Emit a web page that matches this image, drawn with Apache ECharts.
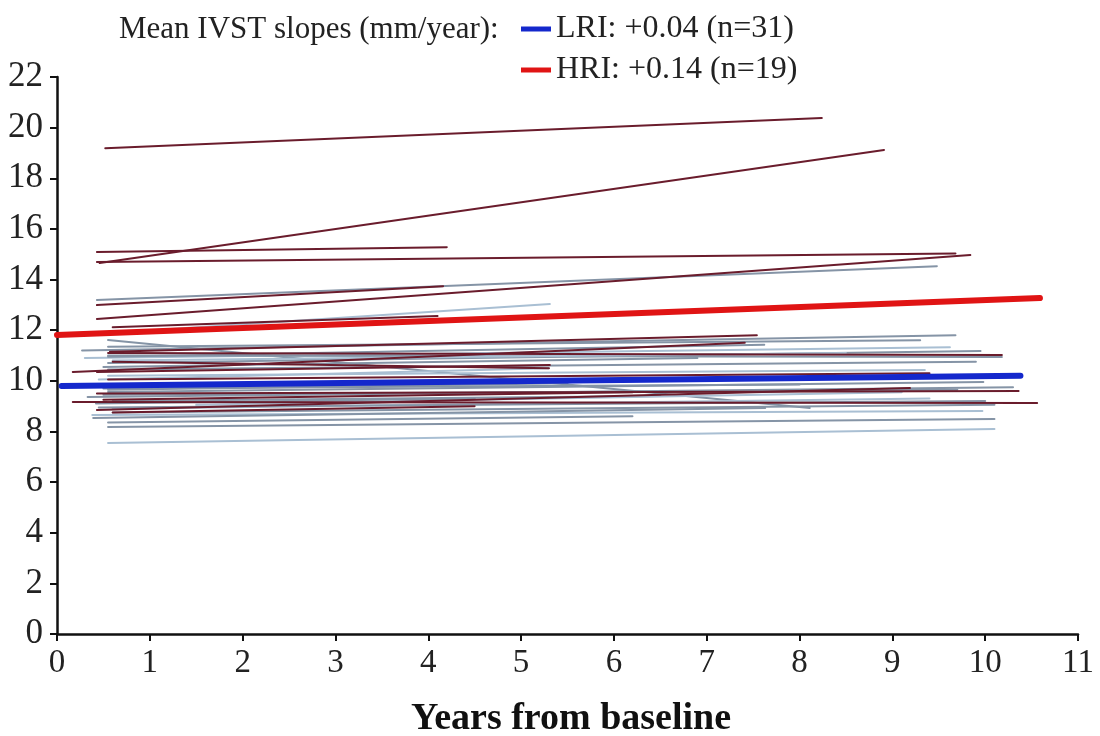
<!DOCTYPE html>
<html>
<head>
<meta charset="utf-8">
<title>IVST slopes</title>
<script src="https://cdn.jsdelivr.net/npm/echarts@6.0.0/dist/echarts.min.js"></script>
<style>
    html, body { margin: 0; padding: 0; background: #fff; }
    #ivstChart { width: 1100px; height: 736px; }
</style>
</head>
<body>
<div id="ivstChart"></div>
<script>
// x axis ticks (years) and y axis ticks (mm)
var xTicks = [0, 1, 2, 3, 4, 5, 6, 7, 8, 9, 10, 11];
var yTicks = [0, 2, 4, 6, 8, 10, 12, 14, 16, 18, 20, 22];

// legend labels
var slopeTitle = 'Mean IVST slopes (mm/year):';
var meanNames = ['LRI: +0.04 (n=31)', 'HRI: +0.14 (n=19)'];

// mean slope lines: [x0, y0, x1, y1]
var lriMean = [0.05, 9.80, 10.38, 10.20];
var hriMean = [0.00, 11.81, 10.59, 13.27];

// individual patients, LRI group: [x0, y0, x1, y1]
var lriLines = [
    [0.43, 13.19, 9.48, 14.53],
    [0.57, 11.89, 5.31, 13.03],
    [0.55, 11.61, 8.11, 8.93],
    [0.27, 11.20, 9.68, 11.80],
    [0.30, 10.90, 9.62, 11.33],
    [0.55, 10.70, 9.95, 11.18],
    [0.55, 11.00, 10.18, 10.94],
    [0.55, 10.20, 9.35, 10.43],
    [0.55, 9.56, 9.98, 9.95],
    [0.33, 9.36, 10.30, 9.75],
    [0.38, 8.65, 9.97, 8.81],
    [0.39, 8.53, 7.63, 8.93],
    [0.55, 8.18, 10.10, 8.49],
    [0.55, 7.54, 10.10, 8.10],
    [0.60, 8.75, 10.10, 9.05],
    [0.55, 10.95, 7.62, 11.42],
    [0.45, 10.05, 5.30, 10.50],
    [0.60, 9.20, 6.50, 9.40],
    [0.50, 9.70, 8.00, 9.85],
    [1.50, 9.05, 9.10, 9.55],
    [0.55, 10.45, 9.90, 10.75],
    [0.42, 9.10, 4.50, 9.30],
    [0.60, 8.90, 9.40, 9.30],
    [0.50, 10.55, 6.90, 10.90],
    [0.55, 11.35, 9.30, 11.60],
    [0.40, 9.85, 10.20, 10.15],
    [0.55, 8.35, 6.20, 8.60],
    [0.50, 9.45, 9.70, 9.65],
    [0.60, 10.80, 8.50, 11.10],
    [0.45, 8.95, 10.00, 9.20],
    [0.55, 9.65, 5.50, 9.90]
];

// individual patients, HRI group: [x0, y0, x1, y1]
var hriLines = [
    [0.52, 19.19, 8.24, 20.38],
    [0.46, 14.65, 8.91, 19.12],
    [0.43, 15.09, 4.20, 15.28],
    [0.43, 14.69, 9.68, 15.03],
    [0.43, 12.44, 9.84, 14.97],
    [0.43, 12.99, 4.16, 13.74],
    [0.60, 12.12, 4.10, 12.56],
    [0.57, 11.15, 7.54, 11.80],
    [0.17, 10.35, 7.41, 11.50],
    [0.43, 10.35, 5.31, 10.62],
    [0.17, 9.16, 10.56, 9.12],
    [0.43, 8.85, 9.19, 9.72],
    [0.55, 11.10, 10.18, 11.02],
    [0.43, 9.50, 10.36, 9.60],
    [0.60, 10.75, 5.30, 10.50],
    [0.50, 9.25, 6.20, 9.55],
    [0.60, 8.75, 4.50, 9.00],
    [0.55, 10.05, 9.40, 10.30],
    [0.40, 9.80, 7.40, 10.10]
];

var serif = '"Liberation Serif", "DejaVu Serif", serif';

window.onload = function () {
    drawChart();
};

// one segment -> one line series
function segSeries(name, seg, color, width, z) {
    return {
        name: name,
        type: 'line',
        data: [[seg[0], seg[1]], [seg[2], seg[3]]],
        symbol: 'none',
        silent: true,
        z: z,
        lineStyle: { color: color, width: width, cap: 'round' }
    };
}

function drawChart() {
    var chart = echarts.init(document.getElementById('ivstChart'));
    var series = [];

    lriLines.forEach(function (s, i) {
        var c = (i % 3 === 1) ? '#a9bfd3' : '#8594a6';
        series.push(segSeries('lri' + i, s, c, 2, 2));
    });
    hriLines.forEach(function (s, i) {
        series.push(segSeries('hri' + i, s, '#6a1c2c', 2, 3));
    });
    series.push(segSeries(meanNames[0], lriMean, '#1428cc', 6, 5));
    series.push(segSeries(meanNames[1], hriMean, '#e01414', 6, 5));

    var option = {
        animation: false,
        backgroundColor: '#ffffff',
        title: {
            text: slopeTitle,
            left: 114,
            top: 9,
            textStyle: { fontFamily: serif, fontSize: 31, fontWeight: 'normal', color: '#222' }
        },
        legend: {
            data: [
                { name: meanNames[0], itemStyle: { color: '#1428cc' } },
                { name: meanNames[1], itemStyle: { color: '#e01414' } }
            ],
            orient: 'vertical',
            left: 516,
            top: 7,
            itemGap: 7,
            itemWidth: 30,
            itemHeight: 5,
            icon: 'rect',
            selectedMode: false,
            textStyle: { fontFamily: serif, fontSize: 32, color: '#222', lineHeight: 34 }
        },
        grid: { left: 57, right: 22, top: 77, bottom: 102, outerBoundsMode: 'none' },
        xAxis: {
            type: 'value',
            min: xTicks[0],
            max: xTicks[xTicks.length - 1],
            interval: 1,
            name: 'Years from baseline',
            nameLocation: 'middle',
            nameGap: 66,
            nameTextStyle: {
                fontFamily: serif, fontSize: 38, fontWeight: 'bold', color: '#111',
                padding: [0, 0, 0, 7]
            },
            axisLine: { lineStyle: { color: '#111', width: 2.5 } },
            axisTick: { show: true, length: 7, lineStyle: { color: '#111', width: 2 } },
            axisLabel: { margin: 13, fontFamily: serif, fontSize: 33, color: '#222' },
            splitLine: { show: false }
        },
        yAxis: {
            type: 'value',
            min: yTicks[0],
            max: yTicks[yTicks.length - 1],
            interval: 2,
            axisLine: { show: true, lineStyle: { color: '#111', width: 2.5 } },
            axisTick: { show: true, length: 7, lineStyle: { color: '#111', width: 2 } },
            axisLabel: { margin: 14, fontFamily: serif, fontSize: 35, color: '#222' },
            splitLine: { show: false }
        },
        series: series
    };
    chart.setOption(option);
}
</script>
</body>
</html>
